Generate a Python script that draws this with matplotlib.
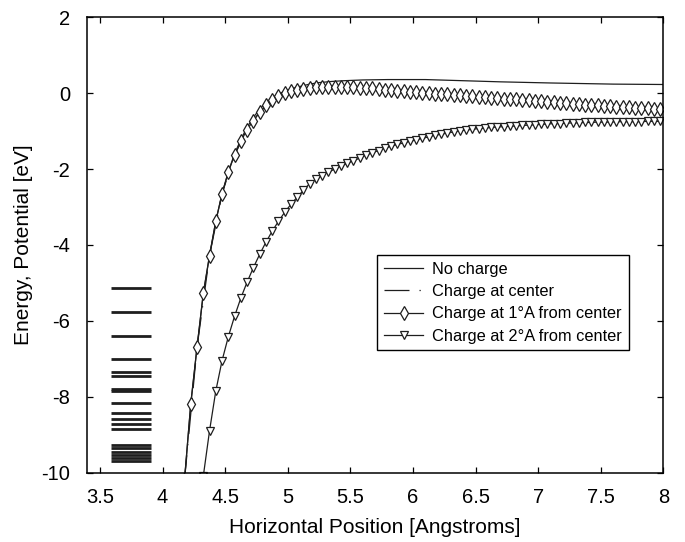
import matplotlib
matplotlib.use('Agg')
import matplotlib.pyplot as plt
import matplotlib.ticker as plticker

plt.rcParams['font.family'] = ['Liberation Sans', 'DejaVu Sans']
plt.rcParams['axes.unicode_minus'] = False

# bound state energies (horizontal bars at the left)
levels = [-5.14, -5.76, -6.39, -7.00, -7.36, -7.45, -7.80, -7.86, -8.17,
          -8.42, -8.59, -8.72, -8.84, -9.27, -9.36, -9.45, -9.53, -9.62,
          -9.69]
level_x = [3.59, 3.91]

# potential without charge
x_none = [4.175, 4.225, 4.275, 4.325, 4.375, 4.425, 4.475, 4.525, 4.575,
          4.625, 4.675, 4.725, 4.775, 4.825, 4.875, 4.925, 4.975, 5.025,
          5.075, 5.125, 5.175, 5.25, 5.35, 5.45, 5.6, 5.8, 6.1, 6.4, 6.7,
          7.1, 7.6, 8.0]
y_none = [-10.2, -8.2, -6.7, -5.3, -4.28, -3.38, -2.65, -2.07, -1.60,
          -1.22, -0.90, -0.64, -0.42, -0.25, -0.12, -0.02, 0.05, 0.11,
          0.16, 0.20, 0.24, 0.28, 0.31, 0.33, 0.35, 0.36, 0.36, 0.33, 0.30,
          0.27, 0.24, 0.23]

# charge at 1 A from center (diamonds), sampled every 0.05 A
x_one = [4.175, 4.225, 4.275, 4.325, 4.375, 4.425, 4.475, 4.525, 4.575,
         4.625, 4.675, 4.725, 4.775, 4.825, 4.875, 4.925, 4.975, 5.025,
         5.075, 5.125, 5.175, 5.225, 5.275, 5.325, 5.375, 5.425, 5.475,
         5.525, 5.575, 5.625, 5.675, 5.725, 5.775, 5.825, 5.875, 5.925,
         5.975, 6.025, 6.075, 6.125, 6.175, 6.225, 6.275, 6.325, 6.375,
         6.425, 6.475, 6.525, 6.575, 6.625, 6.675, 6.725, 6.775, 6.825,
         6.875, 6.925, 6.975, 7.025, 7.075, 7.125, 7.175, 7.225, 7.275,
         7.325, 7.375, 7.425, 7.475, 7.525, 7.575, 7.625, 7.675, 7.725,
         7.775, 7.825, 7.875, 7.925, 7.975]
y_one = [-10.2, -8.19, -6.70, -5.27, -4.28, -3.37, -2.65, -2.08, -1.63,
         -1.27, -0.96, -0.72, -0.50, -0.32, -0.18, -0.07, 0.00, 0.05,
         0.09, 0.12, 0.145, 0.16, 0.17, 0.17, 0.17, 0.17, 0.165,
         0.16, 0.15, 0.14, 0.125, 0.11, 0.095, 0.08, 0.065, 0.05,
         0.04, 0.03, 0.015, 0.0, -0.01, -0.02, -0.03, -0.04, -0.05,
         -0.065, -0.075, -0.09, -0.10, -0.115, -0.125, -0.14, -0.15, -0.165,
         -0.175, -0.19, -0.20, -0.215, -0.225, -0.24, -0.25, -0.265, -0.275,
         -0.29, -0.30, -0.31, -0.32, -0.33, -0.34, -0.35, -0.36, -0.37,
         -0.38, -0.39, -0.40, -0.41, -0.42]

# charge at center, hidden under the 1 A curve
x_center = [4.175, 4.275, 4.375, 4.475, 4.575, 4.675, 4.775, 4.875, 4.975,
            5.175, 5.375, 5.675, 6.025, 6.525, 7.025, 7.525, 8.0]
y_center = [-10.2, -6.70, -4.28, -2.65, -1.63, -0.96, -0.50, -0.18, 0.00,
            0.145, 0.17, 0.125, 0.03, -0.09, -0.215, -0.33, -0.43]

# charge at 2 A from center (triangles)
x_two = [4.325, 4.375, 4.425, 4.475, 4.525, 4.575, 4.625, 4.675, 4.725,
         4.775, 4.825, 4.875, 4.925, 4.975, 5.025, 5.075, 5.125, 5.175,
         5.225, 5.275, 5.325, 5.375, 5.425, 5.475, 5.525, 5.575, 5.625,
         5.675, 5.725, 5.775, 5.825, 5.875, 5.925, 5.975, 6.025, 6.075,
         6.125, 6.175, 6.225, 6.275, 6.325, 6.375, 6.425, 6.475, 6.525,
         6.575, 6.625, 6.675, 6.725, 6.775, 6.825, 6.875, 6.925, 6.975,
         7.025, 7.075, 7.125, 7.175, 7.225, 7.275, 7.325, 7.375, 7.425,
         7.475, 7.525, 7.575, 7.625, 7.675, 7.725, 7.775, 7.825, 7.875,
         7.925, 7.975]
y_two = [-10.1, -8.90, -7.85, -7.05, -6.42, -5.88, -5.40, -4.98, -4.60,
         -4.25, -3.93, -3.64, -3.38, -3.14, -2.93, -2.74, -2.56, -2.38,
         -2.27, -2.17, -2.08, -2.00, -1.92, -1.85, -1.78, -1.71, -1.63,
         -1.57, -1.51, -1.45, -1.40, -1.35, -1.31, -1.27, -1.23, -1.19,
         -1.15, -1.11, -1.08, -1.05, -1.02, -0.99, -0.97, -0.95, -0.93,
         -0.92, -0.90, -0.89, -0.88, -0.87, -0.86, -0.85, -0.84, -0.83,
         -0.82, -0.81, -0.80, -0.80, -0.79, -0.78, -0.78, -0.77, -0.77,
         -0.76, -0.76, -0.76, -0.75, -0.75, -0.75, -0.75, -0.75, -0.74,
         -0.74, -0.74]

labels = ['No charge', 'Charge at center', 'Charge at 1°A from center',
          'Charge at 2°A from center']

ink = '#1e1e1e'

fig = plt.figure(figsize=(6.85, 5.42), dpi=100)
ax = fig.add_axes([0.1266, 0.128, 0.8417, 0.840])

for e in levels:
    ax.plot(level_x, [e, e], color=ink, lw=2.0, solid_capstyle='butt')

ax.plot(x_none, y_none, color=ink, lw=0.9, label=labels[0])
ax.plot(x_center, y_center, color=ink, lw=0.9, ls=(0, (20, 8, 1, 8)),
        label=labels[1])
ax.plot(x_one, y_one, color=ink, lw=0.9, marker='d', ms=7,
        mfc='white', mec=ink, mew=0.9, label=labels[2])
ax.plot(x_two, y_two, color=ink, lw=0.9, marker='v', ms=6,
        mfc='white', mec=ink, mew=0.9, label=labels[3])

ax.set_xlim(3.394, 8)
ax.set_ylim(-10, 2)
ax.xaxis.set_major_locator(plticker.MultipleLocator(0.5))
ax.yaxis.set_major_locator(plticker.MultipleLocator(2))
fmt = plticker.FuncFormatter(lambda v, p: '%g' % v)
ax.xaxis.set_major_formatter(fmt)
ax.yaxis.set_major_formatter(fmt)
ax.tick_params(direction='in', top=True, right=True, length=4.5,
               width=0.9, labelsize=14.5, colors='black')
ax.tick_params(axis='x', pad=11)
ax.tick_params(axis='y', pad=12)
for s in ax.spines.values():
    s.set_linewidth(1.1)
    s.set_color('black')

ax.set_xlabel('Horizontal Position [Angstroms]', fontsize=15)
ax.set_ylabel('Energy, Potential [eV]', fontsize=15)
ax.xaxis.set_label_coords(0.5, -0.1)
ax.yaxis.set_label_coords(-0.094, 0.5)

leg = ax.legend(loc='upper left', bbox_to_anchor=(0.504, 0.478),
                fontsize=11.8, frameon=True, fancybox=False,
                edgecolor='black', framealpha=1, handlelength=2.4,
                handletextpad=0.55, labelspacing=0.45, borderpad=0.4,
                borderaxespad=0)
leg.get_frame().set_linewidth(1.0)

fig.savefig('out.png', dpi=100)
